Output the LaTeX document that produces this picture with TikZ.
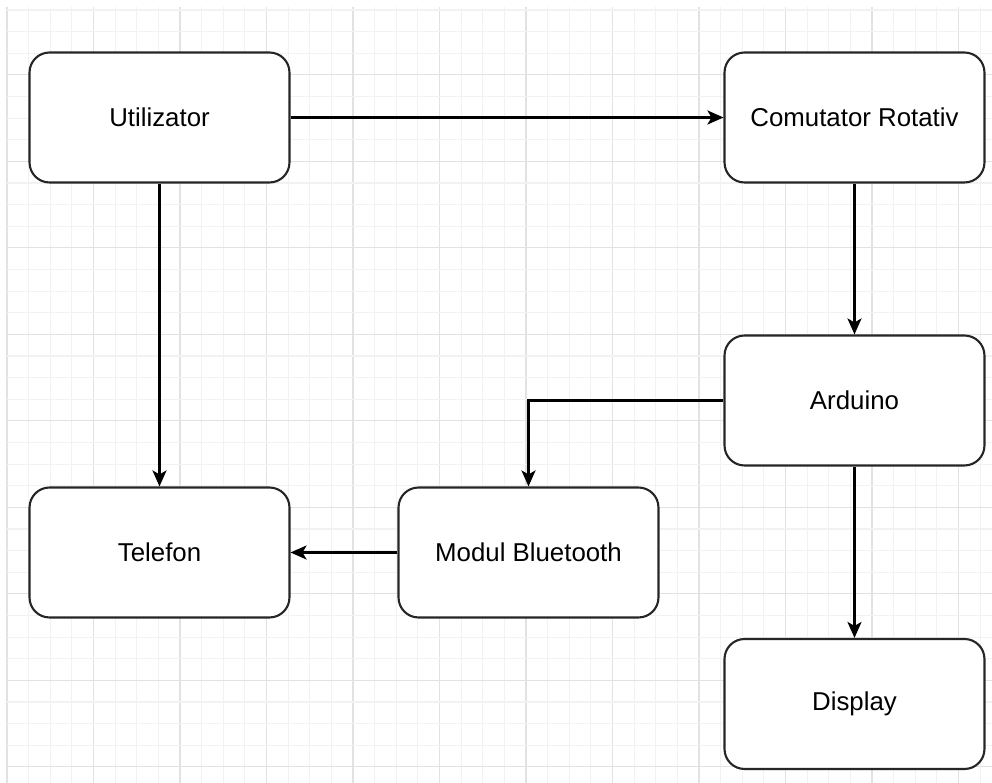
\documentclass[tikz,border=0pt]{standalone}
\usepackage{fontspec}
\setmainfont{Liberation Sans}
\usetikzlibrary{arrows.meta}

\definecolor{gridminor}{HTML}{F2F2F2}
\definecolor{gridmajor}{HTML}{E2E2E2}

\tikzset{
  block/.style={draw=black!85, line width=1.2pt, rounded corners=0.4cm, fill=white,
    minimum width=5.2cm, minimum height=2.6cm, inner sep=0pt,
    font=\fontsize{14.7}{17}\selectfont},
  link/.style={draw=black, line width=1.4pt, -{Stealth[length=3.2mm,width=2.8mm,inset=0.8mm]}}
}

\begin{document}
\begin{tikzpicture}[x=0.02cm,y=-0.02cm]

      \useasboundingbox (0,0) rectangle (992,783);
      \fill[white] (0,0) rectangle (992,783);

      % grid
      \foreach \i in {0,...,45} {
        \pgfmathsetmacro{\gx}{7+21.625*\i}
        \pgfmathtruncatemacro{\maj}{mod(\i,4)==0}
        \ifnum\maj=1
          \draw[gridmajor, line width=0.6pt] (\gx,7) -- (\gx,783);
        \else
          \draw[gridminor, line width=0.6pt] (\gx,7) -- (\gx,783);
        \fi
      }
      \foreach \j in {0,...,35} {
        \pgfmathsetmacro{\gy}{10+21.625*\j}
        \pgfmathtruncatemacro{\maj}{mod(\j,4)==3}
        \ifnum\maj=1
          \draw[gridmajor, line width=0.6pt] (7,\gy) -- (992,\gy);
        \else
          \draw[gridminor, line width=0.6pt] (7,\gy) -- (992,\gy);
        \fi
      }

      \begin{scope}[every node/.style={block}]
        \node (utilizator) at (159.5,117.5) {Utilizator};
        \node (comutator)  at (854.5,117.5) {Comutator Rotativ};
        \node (arduino)    at (854.5,400.5) {Arduino};
        \node (telefon)    at (159.5,552.5) {Telefon};
        \node (bluetooth)  at (528.5,552.5) {Modul Bluetooth};
        \node (display)    at (854.5,704)   {Display};
      \end{scope}

      \begin{scope}[every edge/.style={link}]
        \path (utilizator) edge (comutator);
        \path (utilizator) edge (telefon);
        \path (comutator)  edge (arduino);
        \path (arduino)    edge (display);
        \path (bluetooth)  edge (telefon);
      \end{scope}
      \draw[link] (arduino.west) -| (bluetooth.north);

    \end{tikzpicture}
\end{document}
